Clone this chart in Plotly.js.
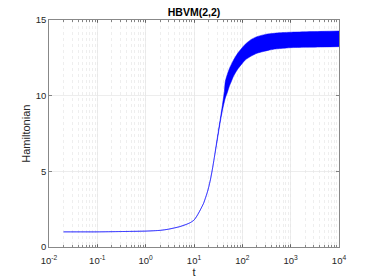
<!DOCTYPE html>
<html>
<head>
<meta charset="utf-8">
<script src="https://cdn.plot.ly/plotly-3.0.1.min.js"></script>
<style>html,body{margin:0;padding:0;background:#fff;}#chart{width:374px;height:280px;}</style>
</head>
<body>
<div id="chart"></div>
<script>
const titleText = "HBVM(2,2)";
const xLabel = "t";
const yLabel = "Hamiltonian";

const tVals = [0.02, 0.05, 0.1, 0.3, 1, 2, 3, 5, 7, 8.5, 10, 11.5, 13.5, 15.8, 17.1, 18.8, 20.3, 21.8, 23.9, 26.3, 29, 31.9, 35.1, 38.6, 42.5, 44.5, 50, 55, 61, 66, 80, 95, 115, 150, 201, 300, 444, 700, 977, 2000, 5000, 10000];
const hUpper = [1.0, 1.0, 1.0, 1.02, 1.05, 1.1, 1.18, 1.34, 1.5, 1.62, 1.78, 2.05, 2.45, 2.89, 3.2, 3.6, 4.0, 4.43, 5.1, 5.9, 6.8, 7.65, 8.5, 9.35, 10.3, 10.95, 11.5, 11.85, 12.15, 12.36, 12.8, 13.1, 13.4, 13.7, 13.9, 14.05, 14.12, 14.17, 14.19, 14.22, 14.25, 14.27];
const hLower = [1.0, 1.0, 1.0, 1.02, 1.05, 1.1, 1.18, 1.34, 1.5, 1.62, 1.78, 2.05, 2.45, 2.89, 3.2, 3.6, 4.0, 4.43, 5.1, 5.9, 6.7, 7.5, 8.3, 9.0, 9.6, 9.85, 10.3, 10.7, 11.04, 11.3, 11.75, 12.05, 12.36, 12.6, 12.8, 12.95, 13.07, 13.13, 13.17, 13.2, 13.22, 13.24];

const xTickVals = [0.01, 0.1, 1, 10, 100, 1000, 10000];
const xTickText = ["10<sup>-2</sup>", "10<sup>-1</sup>", "10<sup>0</sup>", "10<sup>1</sup>", "10<sup>2</sup>", "10<sup>3</sup>", "10<sup>4</sup>"];
const yTickVals = [0, 5, 10, 15];

const lineColor = "#0000ff";
const fontFam = "Liberation Sans, Arial, Helvetica, sans-serif";

const traces = [
  {x: tVals, y: hUpper, type: "scatter", mode: "lines", line: {color: lineColor, width: 0.5, shape: "spline", smoothing: 0.6}, hoverinfo: "skip", showlegend: false},
  {x: tVals, y: hLower, type: "scatter", mode: "lines", line: {color: lineColor, width: 0.5, shape: "spline", smoothing: 0.6}, fill: "tonexty", fillcolor: lineColor, hoverinfo: "skip", showlegend: false}
];

const axisCommon = {
  showline: true, linecolor: "#555555", linewidth: 0.7, mirror: "ticks",
  ticks: "inside", ticklen: 3, tickcolor: "#555555", tickwidth: 0.7,
  showgrid: true, gridcolor: "#e6e6e6", gridwidth: 0.7, zeroline: false,
  tickfont: {family: fontFam, size: 9.5, color: "#262626"}
};

const layout = {
  width: 374, height: 280,
  margin: {l: 48.7, r: 35.3, t: 20, b: 33},
  paper_bgcolor: "#ffffff", plot_bgcolor: "#ffffff",
  title: {text: "<b>" + titleText + "</b>", x: 0.5, xref: "paper", y: 0.955, yanchor: "middle", font: {family: fontFam, size: 10.5, color: "#000000"}},
  xaxis: Object.assign({}, axisCommon, {
    type: "log", range: [-2, 4], tickvals: xTickVals, ticktext: xTickText, ticklabelstandoff: 5,
    minor: {dtick: "D1", ticks: "inside", ticklen: 2, tickcolor: "#555555", showgrid: true, gridcolor: "#dedede", griddash: "dot", gridwidth: 0.5},
    title: {text: xLabel, font: {family: fontFam, size: 11, color: "#262626"}, standoff: 2}
  }),
  yaxis: Object.assign({}, axisCommon, {
    range: [0, 15], tickvals: yTickVals
  }),
  annotations: [{
    text: yLabel, xref: "paper", yref: "paper", x: -0.082, y: 0.5,
    xanchor: "center", yanchor: "middle", textangle: -90, showarrow: false,
    font: {family: fontFam, size: 11, color: "#262626"}
  }]
};

Plotly.newPlot("chart", traces, layout, {staticPlot: true, displayModeBar: false});
</script>
</body>
</html>
